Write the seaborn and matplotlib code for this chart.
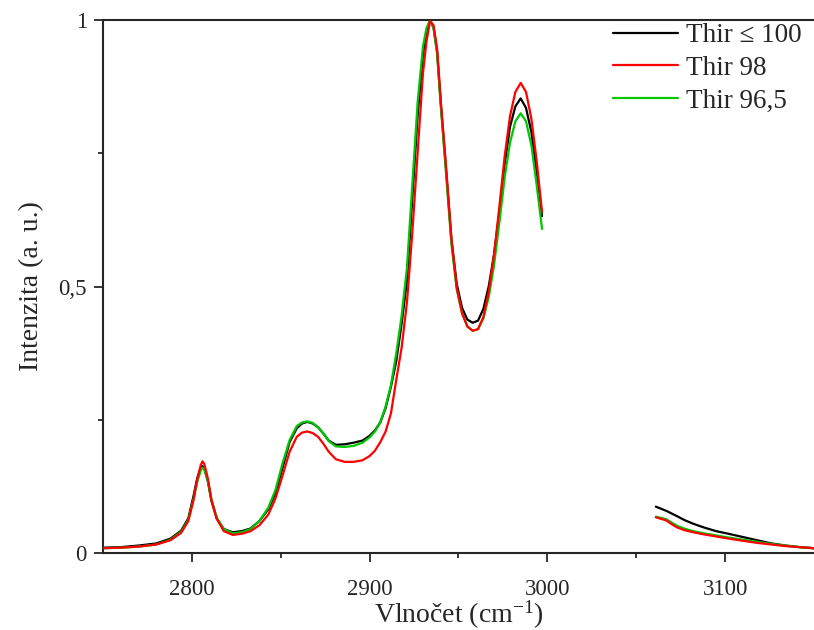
import matplotlib
matplotlib.use("Agg")
import matplotlib.pyplot as plt
from matplotlib.ticker import FixedLocator
import seaborn as sns
import pandas as pd

# Raman spectra, two measured windows (gap between 2997 and 3061 cm-1)
x_left = [2750, 2760, 2770, 2780, 2788, 2794, 2798, 2801, 2803, 2805, 2806, 2807,
          2809, 2811, 2814, 2818, 2823, 2828, 2833, 2838, 2843, 2847, 2851, 2855,
          2859, 2862, 2865, 2868, 2871, 2874, 2877, 2881, 2886, 2891, 2896, 2900,
          2903, 2906, 2909, 2912, 2915, 2918, 2921, 2924, 2927, 2930, 2932, 2934,
          2936, 2938, 2940, 2943, 2946, 2949, 2952, 2955, 2958, 2961, 2964, 2967,
          2970, 2973, 2976, 2979, 2982, 2985, 2988, 2991, 2994, 2997]

thir100_left = [0.010, 0.011, 0.014, 0.018, 0.027, 0.042, 0.065, 0.108, 0.140, 0.160, 0.163, 0.158,
                0.135, 0.098, 0.065, 0.045, 0.039, 0.041, 0.046, 0.060, 0.082, 0.112, 0.160, 0.208,
                0.234, 0.243, 0.246, 0.243, 0.236, 0.224, 0.211, 0.203, 0.204, 0.207, 0.211, 0.220,
                0.230, 0.245, 0.272, 0.312, 0.360, 0.430, 0.510, 0.665, 0.820, 0.935, 0.978, 1.000,
                0.985, 0.940, 0.845, 0.720, 0.590, 0.505, 0.460, 0.438, 0.432, 0.436, 0.458, 0.500,
                0.560, 0.640, 0.730, 0.800, 0.838, 0.853, 0.835, 0.790, 0.715, 0.632]

thir98_left = [0.009, 0.010, 0.012, 0.016, 0.024, 0.038, 0.060, 0.100, 0.138, 0.165, 0.172, 0.167,
               0.140, 0.100, 0.064, 0.041, 0.034, 0.036, 0.041, 0.052, 0.072, 0.102, 0.145, 0.190,
               0.218, 0.226, 0.228, 0.225, 0.218, 0.205, 0.190, 0.176, 0.171, 0.171, 0.174, 0.182,
               0.192, 0.208, 0.228, 0.262, 0.325, 0.385, 0.470, 0.600, 0.750, 0.900, 0.960, 0.998,
               0.990, 0.945, 0.850, 0.725, 0.590, 0.498, 0.450, 0.425, 0.417, 0.420, 0.443, 0.490,
               0.560, 0.650, 0.745, 0.820, 0.865, 0.882, 0.865, 0.815, 0.735, 0.640]

thir96_left = [0.009, 0.010, 0.012, 0.016, 0.025, 0.040, 0.062, 0.102, 0.133, 0.155, 0.160, 0.157,
               0.135, 0.100, 0.066, 0.045, 0.037, 0.039, 0.045, 0.060, 0.085, 0.118, 0.168, 0.212,
               0.238, 0.245, 0.247, 0.244, 0.236, 0.224, 0.210, 0.200, 0.199, 0.201, 0.207, 0.217,
               0.228, 0.245, 0.275, 0.315, 0.375, 0.445, 0.535, 0.690, 0.845, 0.950, 0.985, 1.000,
               0.985, 0.935, 0.840, 0.712, 0.580, 0.495, 0.450, 0.425, 0.417, 0.420, 0.440, 0.480,
               0.540, 0.620, 0.705, 0.770, 0.810, 0.825, 0.810, 0.765, 0.690, 0.608]

x_right = [3061, 3064, 3067, 3070, 3073, 3077, 3082, 3088, 3095, 3102, 3110, 3118, 3126, 3134, 3142, 3150]
thir100_right = [0.087, 0.083, 0.079, 0.074, 0.069, 0.062, 0.055, 0.048, 0.041, 0.036, 0.030, 0.024, 0.018, 0.014, 0.011, 0.009]
thir98_right = [0.067, 0.064, 0.061, 0.054, 0.048, 0.043, 0.039, 0.035, 0.031, 0.027, 0.023, 0.019, 0.016, 0.013, 0.011, 0.009]
thir96_right = [0.068, 0.066, 0.063, 0.057, 0.051, 0.046, 0.041, 0.037, 0.033, 0.029, 0.025, 0.021, 0.017, 0.014, 0.011, 0.009]

labels = ["Thir \u2264 100", "Thir 98", "Thir 96,5"]
colors = ["#000000", "#ff0000", "#00c800"]

rows = []
for label, left, right in zip(labels,
                              [thir100_left, thir98_left, thir96_left],
                              [thir100_right, thir98_right, thir96_right]):
    for xv, yv in zip(x_left, left):
        rows.append((xv, yv, label, "a"))
    for xv, yv in zip(x_right, right):
        rows.append((xv, yv, label, "b"))
df = pd.DataFrame(rows, columns=["x", "y", "sample", "segment"])

sns.set_style("ticks")
plt.rcParams["font.family"] = ["Liberation Serif", "DejaVu Serif"]
plt.rcParams["mathtext.fontset"] = "custom"
plt.rcParams["mathtext.rm"] = "Liberation Serif"
plt.rcParams["mathtext.default"] = "regular"

fig = plt.figure(figsize=(8.14, 6.3), dpi=100)
ax = fig.add_axes([0.1265, 0.1222, 0.8735, 0.846])

sns.lineplot(data=df, x="x", y="y", hue="sample", units="segment", estimator=None,
             hue_order=labels, palette=colors, linewidth=1.6, ax=ax, sort=False)

# red drawn on top like in the original
for line in ax.lines:
    if line.get_color() in ("#ff0000", (1.0, 0.0, 0.0, 1)):
        line.set_zorder(3)

ax.set_xlim(2750, 3150)
ax.set_ylim(0, 1)
ax.xaxis.set_major_locator(FixedLocator([2800, 2900, 3000, 3100]))
ax.xaxis.set_minor_locator(FixedLocator([2850, 2950, 3050]))
ax.yaxis.set_major_locator(FixedLocator([0, 0.5, 1]))
ax.yaxis.set_minor_locator(FixedLocator([0.25, 0.75]))
ax.set_yticklabels(["0", "0,5", "1"])

ax.tick_params(axis="both", which="major", length=6.5, width=1.3, labelsize=16.5, direction="out")
ax.tick_params(axis="both", which="minor", length=3.6, width=1.3, direction="out")
ax.tick_params(axis="x", which="major", pad=12)
ax.tick_params(axis="y", which="major", pad=5)

for side in ["left", "top", "bottom"]:
    ax.spines[side].set_linewidth(1.5)
ax.spines["right"].set_visible(False)

ax.set_xlabel("Vlno\u010det (cm$^{-1}$)", fontsize=20)
ax.set_ylabel("Intenzita (a. u.)", fontsize=20)
ax.xaxis.set_label_coords(0.5, -0.085)
ax.yaxis.set_label_coords(-0.083, 0.5)

leg = ax.legend(loc="upper right", bbox_to_anchor=(0.985, 0.963), bbox_transform=fig.transFigure,
                frameon=False, fontsize=19.5, handlelength=2.4, handletextpad=0.3,
                labelspacing=0.28, borderpad=0, borderaxespad=0)
for h in leg.get_lines():
    h.set_linewidth(1.6)

fig.savefig("out.png", dpi=100)
